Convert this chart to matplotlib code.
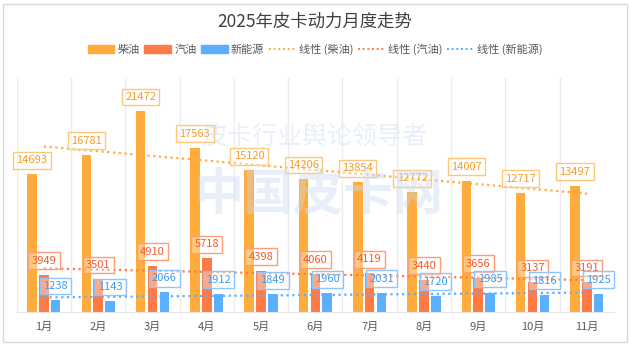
import numpy as np
import matplotlib
matplotlib.use("Agg")
import matplotlib.pyplot as plt
from matplotlib.patches import Patch, Rectangle
from matplotlib.lines import Line2D

plt.rcParams['font.family'] = ['Noto Sans CJK SC', 'DejaVu Sans']

months = ['1月', '2月', '3月', '4月', '5月', '6月', '7月', '8月', '9月', '10月', '11月']
diesel = [14693, 16781, 21472, 17563, 15120, 14206, 13854, 12772, 14007, 12717, 13497]
gasoline = [3949, 3501, 4910, 5718, 4398, 4060, 4119, 3440, 3656, 3137, 3191]
nev = [1238, 1143, 2066, 1912, 1849, 1960, 2031, 1720, 1985, 1816, 1925]
series_names = ['柴油', '汽油', '新能源']
trend_names = ['线性 (柴油)', '线性 (汽油)', '线性 (新能源)']

bar_colors = ['#FFAC3C', '#FF7A45', '#5BAFFF']
text_colors = ['#F59B26', '#F5582A', '#3D9BF2']
edge_colors = ['#FFC878', '#FF9C78', '#8CC6FF']

fig = plt.figure(figsize=(6.3, 3.46), dpi=100)
ax = fig.add_axes([16.7 / 630, 1 - 311.7 / 346, (614 - 16.7) / 630, (311.7 - 78) / 346])

x = np.arange(len(months))
width = 0.175
offsets = [-0.219, 0.0, 0.219]
data = [diesel, gasoline, nev]

# vertical gridlines at category boundaries
for b in np.arange(-0.5, len(months) - 0.5, 1.0):
    ax.axvline(b, color='#EDEDED', lw=1.0, zorder=0)

for i, vals in enumerate(data):
    ax.bar(x + offsets[i], vals, width, color=bar_colors[i], zorder=2)

# trend lines (linear fits of each series)
for i, vals in enumerate(data):
    k, c = np.polyfit(x, vals, 1)
    ax.plot(x, k * x + c, linestyle=(0, (1, 1.6)), color=bar_colors[i], lw=1.6, zorder=4)

# data labels
for i, vals in enumerate(data):
    for xi, v in zip(x, vals):
        ax.annotate(str(v), (xi + offsets[i], v), xytext=(0, 14), textcoords='offset pixels',
                    ha='center', va='center', fontsize=8, color=text_colors[i], zorder=5,
                    bbox=dict(boxstyle='square,pad=0.3', fc=(1, 1, 1, 0.35), ec=edge_colors[i], lw=1.0))

ax.set_xlim(-0.5, len(months) - 0.5)
ax.set_ylim(0, 25000)
ax.set_xticks(x)
ax.set_xticklabels(months, fontsize=8, color='#595959')
ax.tick_params(axis='x', length=0, pad=7)
ax.set_yticks([])
for s in ['top', 'left', 'right']:
    ax.spines[s].set_visible(False)
ax.spines['bottom'].set_color('#E3E3E3')

# watermark
fig.text(0.505, 0.435, '中国皮卡网', fontsize=36, fontweight='bold', color='#C9D9F2', alpha=0.4,
         ha='center', va='center', zorder=10)
fig.text(0.5, 0.605, '皮卡行业舆论领导者', fontsize=18, color='#C9D9F2', alpha=0.4,
         ha='center', va='center', zorder=10)

fig.text(0.5, 1 - 22 / 346, '2025年皮卡动力月度走势', fontsize=12.5, color='#404040',
         ha='center', va='center')

handles = [Patch(color=bar_colors[i]) for i in range(3)] + \
          [Line2D([0], [0], color=bar_colors[i], lw=1.4, linestyle=(0, (1, 1.4))) for i in range(3)]
labels = series_names + trend_names
leg = fig.legend(handles, labels, loc='center', bbox_to_anchor=(0.5, 1 - 49 / 346), ncol=6,
                 frameon=False, fontsize=8, handlelength=2.4, handleheight=0.7, handletextpad=0.3,
                 columnspacing=0.4, labelcolor='#595959')

fig.patches.append(Rectangle((3 / 630, 4 / 346), 624 / 630, 338 / 346, transform=fig.transFigure,
                             fill=False, ec='#D9D9D9', lw=1.0))

fig.savefig('out.png', dpi=100)
